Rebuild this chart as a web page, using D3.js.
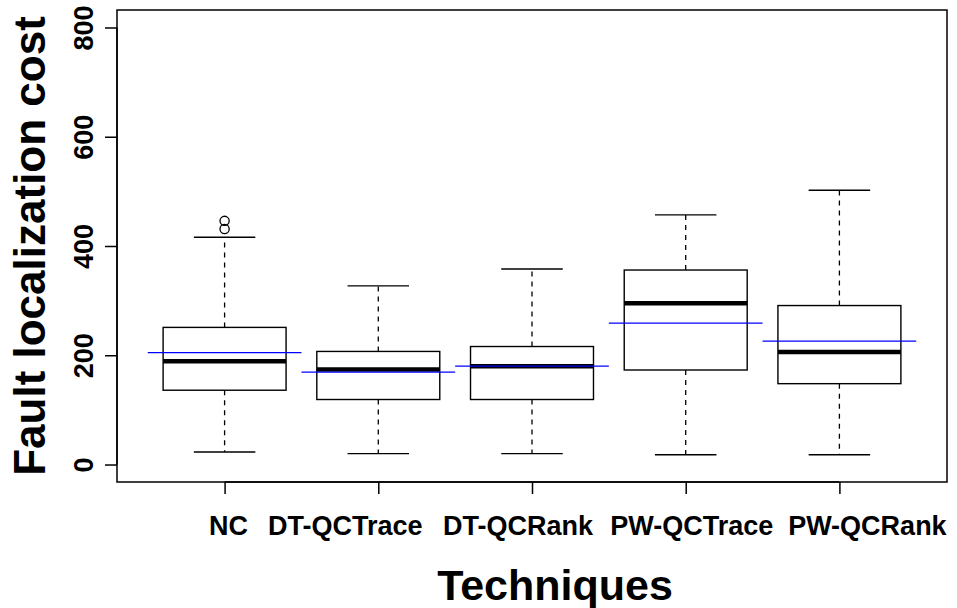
<!DOCTYPE html>
<html>
<head>
<meta charset="utf-8">
<script src="https://cdn.jsdelivr.net/npm/d3@7"></script>
<style>
  html, body { margin: 0; padding: 0; background: #fff; }
  svg { display: block; }
  text { font-family: "Liberation Sans", Arial, Helvetica, sans-serif; font-weight: bold; fill: #000; }
</style>
</head>
<body>
<svg id="chart" width="957" height="608"></svg>
<script>
// Fault localization cost per technique (boxplot statistics)
const categories  = ["NC", "DT-QCTrace", "DT-QCRank", "PW-QCTrace", "PW-QCRank"];
const whiskerLow  = [23, 20, 20, 18, 18];
const lowerQuart  = [136, 119, 119, 173, 148];
const medians     = [189, 174, 180, 295, 206];
const upperQuart  = [251, 207, 216, 356, 291];
const whiskerHigh = [416, 327, 358, 457, 502];
const means       = [205, 169, 180, 259, 226];
const outliers    = [[431, 446], [], [], [], []];
const yTicks      = [0, 200, 400, 600, 800];

// layout
const plot = { left: 117, right: 947, top: 10, bottom: 482 };
const labelShift = [4, -33, -14, 6, 28];   // horizontal nudge of category labels (px)

const svg = d3.select("#chart");

const x = d3.scaleLinear().domain([0.3, categories.length + 0.7]).range([plot.left, plot.right]);
const y = d3.scaleLinear().domain([-32, 832]).range([plot.bottom, plot.top]);

const boxHalf = 0.4, stapleHalf = 0.2, meanHalf = 0.5;

const data = categories.map((c, i) => ({
  name: c, pos: i + 1,
  lo: whiskerLow[i], q1: lowerQuart[i], med: medians[i], q3: upperQuart[i], hi: whiskerHigh[i],
  mean: means[i], out: outliers[i]
}));

const g = svg.append("g");

const groups = g.selectAll("g.box").data(data).join("g").attr("class", "box");

// dashed whiskers
groups.append("line")
  .attr("x1", d => x(d.pos)).attr("x2", d => x(d.pos))
  .attr("y1", d => y(d.q3)).attr("y2", d => y(d.hi))
  .attr("stroke", "#000").attr("stroke-width", 1.3).attr("stroke-dasharray", "5,5");
groups.append("line")
  .attr("x1", d => x(d.pos)).attr("x2", d => x(d.pos))
  .attr("y1", d => y(d.q1)).attr("y2", d => y(d.lo))
  .attr("stroke", "#000").attr("stroke-width", 1.3).attr("stroke-dasharray", "5,5");

// staples
["lo", "hi"].forEach(k => {
  groups.append("line")
    .attr("x1", d => x(d.pos - stapleHalf)).attr("x2", d => x(d.pos + stapleHalf))
    .attr("y1", d => y(d[k])).attr("y2", d => y(d[k]))
    .attr("stroke", "#000").attr("stroke-width", 1.4);
});

// boxes
groups.append("rect")
  .attr("x", d => x(d.pos - boxHalf))
  .attr("width", d => x(d.pos + boxHalf) - x(d.pos - boxHalf))
  .attr("y", d => y(d.q3))
  .attr("height", d => y(d.q1) - y(d.q3))
  .attr("fill", "#fff").attr("stroke", "#000").attr("stroke-width", 1.4);

// medians
groups.append("line")
  .attr("x1", d => x(d.pos - boxHalf)).attr("x2", d => x(d.pos + boxHalf))
  .attr("y1", d => y(d.med)).attr("y2", d => y(d.med))
  .attr("stroke", "#000").attr("stroke-width", 4.5);

// means
groups.append("line")
  .attr("x1", d => x(d.pos - meanHalf)).attr("x2", d => x(d.pos + meanHalf))
  .attr("y1", d => y(d.mean)).attr("y2", d => y(d.mean))
  .attr("stroke", "#0000ff").attr("stroke-width", 1.3);

// outliers
groups.selectAll("circle").data(d => d.out.map(v => ({ pos: d.pos, v })))
  .join("circle")
  .attr("cx", d => x(d.pos)).attr("cy", d => y(d.v)).attr("r", 4.6)
  .attr("fill", "none").attr("stroke", "#000").attr("stroke-width", 1.3);

// frame
svg.append("rect")
  .attr("x", plot.left).attr("y", plot.top)
  .attr("width", plot.right - plot.left).attr("height", plot.bottom - plot.top)
  .attr("fill", "none").attr("stroke", "#000").attr("stroke-width", 1.5);

// y axis
const yAxis = d3.axisLeft(y).tickValues(yTicks).tickSize(12).tickSizeOuter(0).tickFormat(d3.format("d"));
const ya = svg.append("g").attr("transform", `translate(${plot.left},0)`).call(yAxis);
ya.select(".domain").attr("d", `M0,${y(yTicks[0])}V${y(yTicks[yTicks.length - 1])}`)
  .attr("stroke", "#000").attr("stroke-width", 1.5);
ya.selectAll(".tick line").attr("stroke", "#000").attr("stroke-width", 1.5);
ya.selectAll(".tick text")
  .attr("x", null).attr("dy", null)
  .attr("transform", "translate(-24,0) rotate(-90)")
  .attr("text-anchor", "middle")
  .style("font-size", "27px").style("font-weight", "bold")
  .attr("fill", "#000");

// x axis
const xAxis = d3.axisBottom(x).tickValues(data.map(d => d.pos)).tickSize(12).tickSizeOuter(0).tickFormat(() => "");
const xa = svg.append("g").attr("transform", `translate(0,${plot.bottom})`).call(xAxis);
xa.select(".domain").attr("d", `M${x(1)},0H${x(categories.length)}`)
  .attr("stroke", "#000").attr("stroke-width", 1.5);
xa.selectAll(".tick line").attr("stroke", "#000").attr("stroke-width", 1.5);

svg.append("g").selectAll("text").data(data).join("text")
  .attr("x", (d, i) => x(d.pos) + labelShift[i])
  .attr("y", 535)
  .attr("text-anchor", "middle")
  .style("font-size", "27px")
  .text(d => d.name);

// axis titles
svg.append("text")
  .attr("x", 555).attr("y", 600)
  .attr("text-anchor", "middle")
  .style("font-size", "43px")
  .text("Techniques");

svg.append("text")
  .attr("transform", `translate(45,${(plot.top + plot.bottom) / 2}) rotate(-90)`)
  .attr("text-anchor", "middle")
  .style("font-size", "44px")
  .text("Fault localization cost");
</script>
</body>
</html>
